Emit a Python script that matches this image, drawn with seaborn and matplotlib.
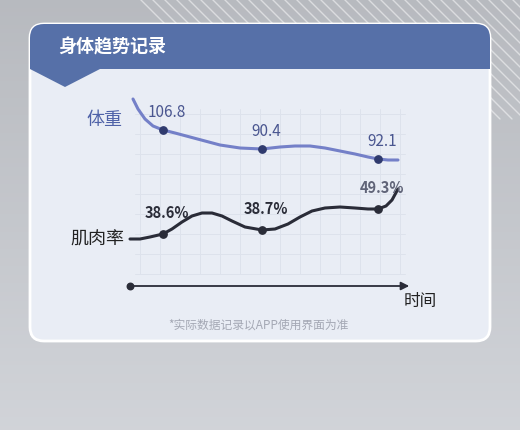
import matplotlib
matplotlib.use("Agg")
import matplotlib.pyplot as plt
import seaborn as sns
import numpy as np
import pandas as pd
from matplotlib.patches import FancyBboxPatch, Polygon, Rectangle

sns.set_theme(style="white")
plt.rcParams['font.family'] = ['Noto Sans CJK SC', 'DejaVu Sans']

# curve traces (pixel-like units)
weight_x = [133, 138, 145, 153, 163, 175, 190, 205, 220, 240, 262, 280, 295, 310, 325, 340, 355, 368, 378, 388, 398]
weight_y = [100, 110, 120, 127, 131, 134, 138, 142, 146, 149, 150, 148, 147, 147, 149, 152, 155, 158, 160, 161, 161]
muscle_x = [130, 140, 150, 163, 172, 182, 192, 202, 212, 222, 232, 245, 262, 275, 288, 300, 312, 325, 340, 355, 368, 378, 386, 392, 398]
muscle_y = [240, 240, 238, 235, 230, 223, 217, 214, 214, 217, 222, 228, 231, 230, 225, 218, 212, 209, 208, 209, 210, 210, 207, 201, 190]
weight_pts_x = [163, 262, 378]
weight_pts_y = [131, 150, 160]
weight_labels = ["106.8", "90.4", "92.1"]
muscle_pts_x = [163, 262, 378]
muscle_pts_y = [235, 231, 210]
muscle_labels = ["38.6%", "38.7%", "49.3%"]

fig = plt.figure(figsize=(5.2, 4.31), dpi=100)
ax = fig.add_axes([0, 0, 1, 1])
ax.set_xlim(0, 520); ax.set_ylim(431, 0); ax.axis("off")

grad = np.linspace(0, 1, 100).reshape(-1, 1)
ax.imshow(np.dstack([0.72+0.1*grad, 0.73+0.1*grad, 0.75+0.1*grad]).repeat(2, 1),
          extent=[0, 520, 431, 0], aspect="auto", zorder=0)
for k in range(-20, 40):
    x0 = 380 + k*12
    ax.plot([x0, x0+120], [0, 120], color="white", lw=1, alpha=0.5, zorder=0.5)

card = FancyBboxPatch((30, 25), 460, 317, boxstyle="round,pad=0,rounding_size=14",
                      fc="#e9edf5", ec="white", lw=2, zorder=1)
ax.add_patch(card)
hdr = FancyBboxPatch((30, 25), 460, 45, boxstyle="round,pad=0,rounding_size=14",
                     fc="#5670a8", ec="none", zorder=2)
ax.add_patch(hdr)
ax.add_patch(Rectangle((30, 50), 460, 20, fc="#5670a8", ec="none", zorder=2))
ax.add_patch(Polygon([[30, 70], [100, 70], [65, 88]], closed=True, fc="#5670a8", ec="none", zorder=2))
ax.text(58, 47, "身体趋势记录", color="white", fontsize=13, fontweight="bold", va="center", zorder=3)

for gx in range(140, 420, 20):
    ax.plot([gx, gx], [110, 275], color="#dde2ec", lw=0.7, zorder=1.5)
for gy in range(115, 280, 20):
    ax.plot([135, 405], [gy, gy], color="#dde2ec", lw=0.7, zorder=1.5)

dw = pd.DataFrame({"x": weight_x, "y": weight_y})
dm = pd.DataFrame({"x": muscle_x, "y": muscle_y})
sns.lineplot(data=dw, x="x", y="y", ax=ax, color="#7480c8", lw=2.2, sort=False, zorder=4)
sns.lineplot(data=dm, x="x", y="y", ax=ax, color="#2a2c38", lw=2.2, sort=False, zorder=4)
ax.scatter(weight_pts_x, weight_pts_y, color="#2f3a6e", s=28, zorder=5)
ax.scatter(muscle_pts_x, muscle_pts_y, color="#2a2c38", s=28, zorder=5)
for x, y, t in zip(weight_pts_x, weight_pts_y, weight_labels):
    ax.text(x+4, y-14, t, color="#4a5690", fontsize=11, ha="center", zorder=6)
for x, y, t in zip(muscle_pts_x, muscle_pts_y, muscle_labels):
    ax.text(x+4, y-17, t, color="#2a2c38" if t != "49.3%" else "#606478",
            fontsize=10.5, fontweight="bold", ha="center", zorder=6)
ax.text(86, 120, "体重", color="#4f62a8", fontsize=13, va="center", zorder=6)
ax.text(70, 240, "肌肉率", color="#222", fontsize=13, va="center", zorder=6)

ax.annotate("", xy=(412, 287), xytext=(130, 287),
            arrowprops=dict(arrowstyle="-|>", color="#2a2c38", lw=1.3), zorder=6)
ax.scatter([130], [287], color="#2a2c38", s=22, zorder=6)
ax.text(420, 302, "时间", fontsize=12, ha="center", va="center", color="#222", zorder=6)
ax.text(258, 325, "*实际数据记录以APP使用界面为准", fontsize=8.5, ha="center",
        va="center", color="#a4a8b4", zorder=6)

fig.savefig("out.png", dpi=100)
